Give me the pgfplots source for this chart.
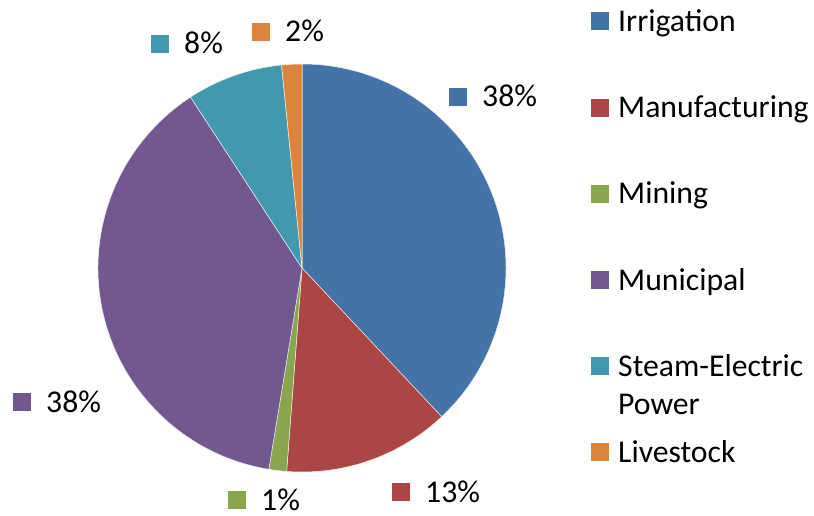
\documentclass[border=0pt]{standalone}
\usepackage{fontspec}
\setmainfont{Carlito}
\usepackage{pgfplots}
\pgfplotsset{compat=1.18}

\definecolor{cIrr}{HTML}{4572A7}
\definecolor{cMan}{HTML}{AA4643}
\definecolor{cMin}{HTML}{89A54E}
\definecolor{cMun}{HTML}{71588F}
\definecolor{cSte}{HTML}{4198AF}
\definecolor{cLiv}{HTML}{DB843D}

% share in percent, colour, label square centre (px), label text
\pgfplotstableread{
value col  lx  ly  lab
38.0  cIrr 458 97  38
13.2  cMan 401 492 13
1.4   cMin 237 500 1
38.2  cMun 22  402 38
7.6   cSte 160 44  8
1.6   cLiv 261 32  2
}\piedata

\begin{document}
\fontsize{31.7}{39}\selectfont
\begin{tikzpicture}
\pgfplotstablegetrowsof{\piedata}
\pgfmathtruncatemacro\nrows{\pgfplotsretval-1}
\def\piecmds{}
\def\curangle{90}
\pgfplotsforeachungrouped \i in {0,...,\nrows}{%
  \pgfplotstablegetelem{\i}{value}\of\piedata \let\sv\pgfplotsretval
  \pgfplotstablegetelem{\i}{col}\of\piedata \let\sc\pgfplotsretval
  \pgfplotstablegetelem{\i}{lx}\of\piedata \let\lx\pgfplotsretval
  \pgfplotstablegetelem{\i}{ly}\of\piedata \let\ly\pgfplotsretval
  \pgfplotstablegetelem{\i}{lab}\of\piedata \let\lab\pgfplotsretval
  \pgfmathsetmacro\endangle{\curangle-3.6*\sv}
  \pgfmathsetmacro\tx{\lx+24}
  \pgfmathsetmacro\ty{\ly+10}
  \edef\piecmds{\unexpanded\expandafter{\piecmds}%
    \noexpand\fill[\sc, draw=white!85!\sc, line width=0.5pt] (axis cs:302,268) -- ++(\curangle:204pt)
      arc[start angle=\curangle, end angle=\endangle, radius=204pt] -- cycle;
    \noexpand\fill[\sc] (axis cs:\lx,\ly) ++(-9pt,-9pt) rectangle ++(18pt,18pt);
    \noexpand\node[anchor=base west, inner sep=0pt] at (axis cs:\tx,\ty) {\lab\noexpand\%};
  }%
  \let\curangle\endangle
}
\begin{axis}[
  width=814pt, height=516pt, scale only axis,
  xmin=0, xmax=814, ymin=0, ymax=516,
  y dir=reverse,
  hide axis, clip=false,
]
\piecmds
% legend
\fill[cIrr] (axis cs:600,21)  ++(-9pt,-9pt) rectangle ++(18pt,18pt);
\fill[cMan] (axis cs:600,108) ++(-9pt,-9pt) rectangle ++(18pt,18pt);
\fill[cMin] (axis cs:600,194) ++(-9pt,-9pt) rectangle ++(18pt,18pt);
\fill[cMun] (axis cs:600,280) ++(-9pt,-9pt) rectangle ++(18pt,18pt);
\fill[cSte] (axis cs:600,366) ++(-9pt,-9pt) rectangle ++(18pt,18pt);
\fill[cLiv] (axis cs:600,452) ++(-9pt,-9pt) rectangle ++(18pt,18pt);
\node[anchor=base west, inner sep=0pt] at (axis cs:618,32)  {Irrigation};
\node[anchor=base west, inner sep=0pt] at (axis cs:618,118) {Manufacturing};
\node[anchor=base west, inner sep=0pt] at (axis cs:618,204) {Mining};
\node[anchor=base west, inner sep=0pt] at (axis cs:618,290) {Municipal};
\node[anchor=base west, inner sep=0pt] at (axis cs:618,376) {Steam-Electric};
\node[anchor=base west, inner sep=0pt] at (axis cs:618,414) {Power};
\node[anchor=base west, inner sep=0pt] at (axis cs:618,462) {Livestock};
\end{axis}
\pgfresetboundingbox
\path[use as bounding box] (0,0) rectangle (814pt,516pt);
\end{tikzpicture}
\end{document}
